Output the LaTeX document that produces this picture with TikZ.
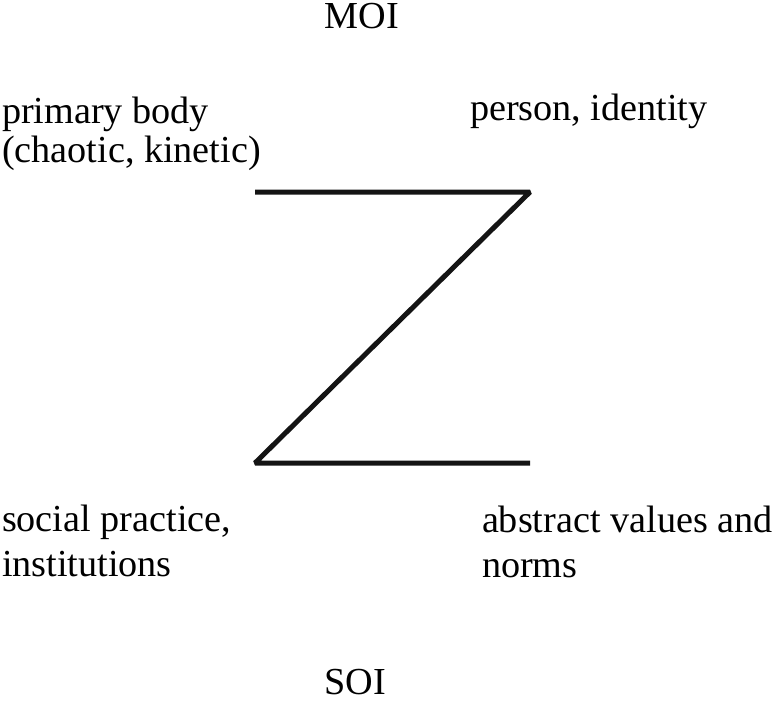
\documentclass[tikz,border=0pt]{standalone}
\usepackage{fontspec}
\setmainfont{Liberation Serif}
\begin{document}
\begin{tikzpicture}[x=1pt,y=-1pt,
  lbl/.style={inner sep=0pt,outer sep=0pt,align=left,anchor=base west,
    font=\fontsize{38.2}{39}\selectfont},
  ttl/.style={inner sep=0pt,outer sep=0pt,anchor=base,
    font=\fontsize{38.2}{39}\selectfont},
  zline/.style={line width=5pt,line join=bevel,line cap=butt,draw=black!92}]
\useasboundingbox (0,0) rectangle (773,701);
\coordinate (tl) at (255,192);
\coordinate (tr) at (530,192);
\coordinate (bl) at (255,463);
\coordinate (br) at (530,463);
\draw[zline] (tl) -- (tr) -- (bl) -- (br);
\node[ttl] (moi) at (362,29) {MOI};
\node[ttl] (soi) at (355,694) {SOI};
\node[lbl] (body) at (2,162) {primary body\\(chaotic, kinetic)};
\node[lbl] (person) at (470,120) {person, identity};
\node[lbl] (social) at (2,576) {social practice,\\[6pt]institutions};
\node[lbl] (values) at (482,577) {abstract values and\\[6pt]norms};
\end{tikzpicture}
\end{document}
